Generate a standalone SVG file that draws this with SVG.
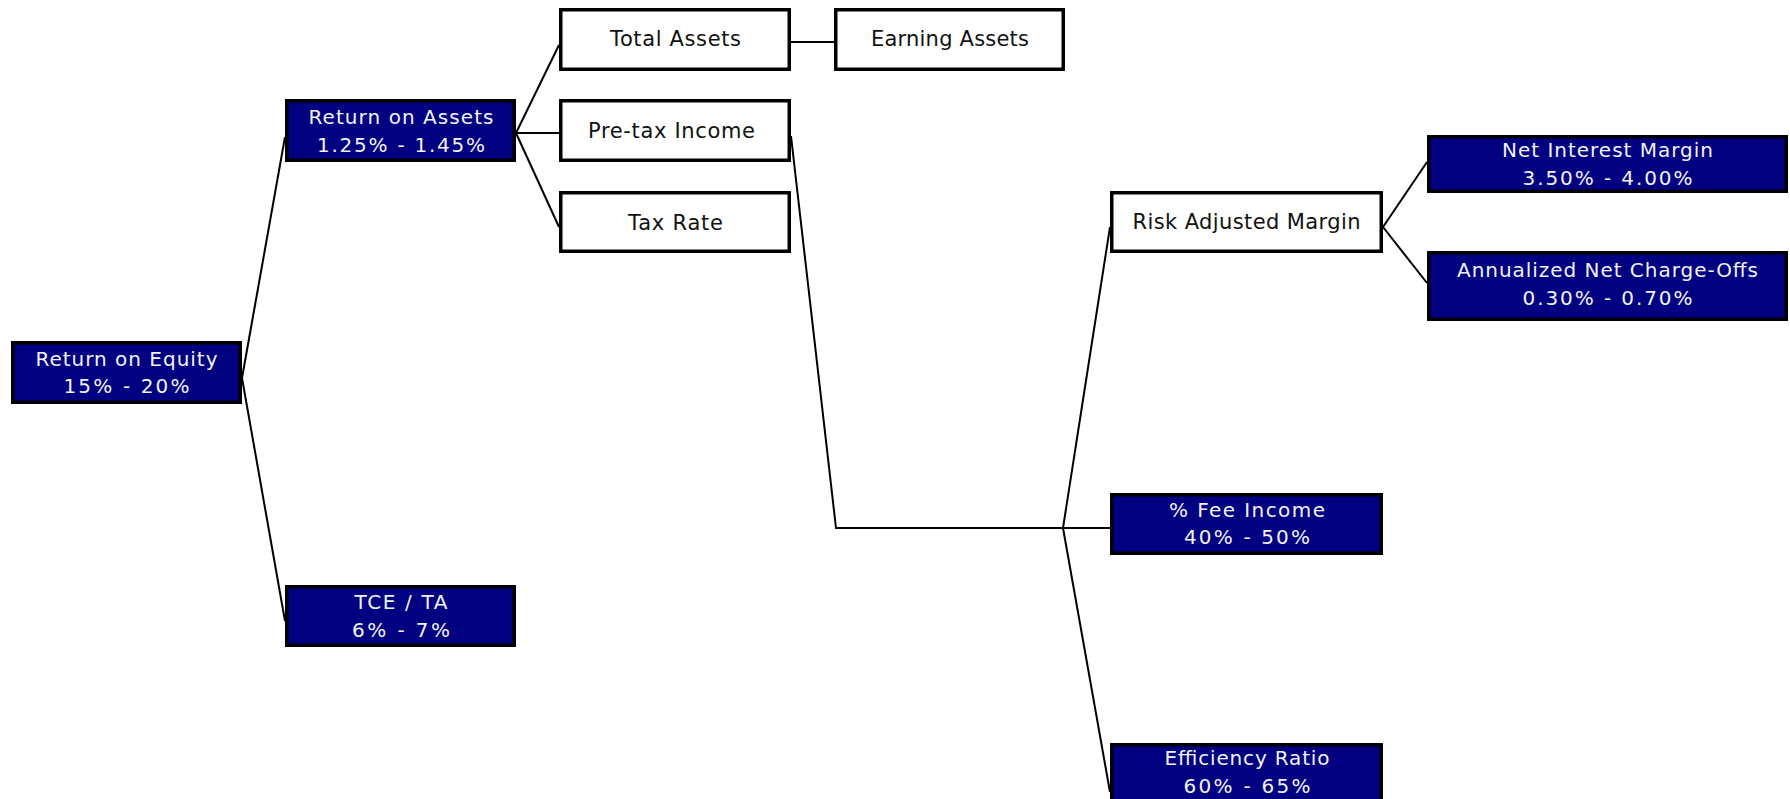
<svg xmlns="http://www.w3.org/2000/svg" width="1790" height="799" viewBox="0 0 1790 799">
<style>
.bx{stroke:#000;stroke-width:3.5}
.blue{fill:#000080}
.white{fill:#fff}
.tb{font-family:"DejaVu Sans","Verdana",sans-serif;font-size:20px;fill:#f2f2f2;text-anchor:middle}
.tw{font-family:"DejaVu Sans","Verdana",sans-serif;font-size:21px;fill:#111;text-anchor:middle}
.c{fill:none;stroke:#000;stroke-width:2}
</style>
<rect width="1790" height="799" fill="#fff"/>
<g id="connectors">
<line class="c" x1="242" y1="378" x2="285" y2="137"/>
<line class="c" x1="242" y1="378" x2="285" y2="621"/>
<line class="c" x1="516" y1="133" x2="559" y2="45"/>
<line class="c" x1="516" y1="133" x2="559" y2="133"/>
<line class="c" x1="516" y1="133" x2="559" y2="227"/>
<line class="c" x1="791" y1="42" x2="834" y2="42"/>
<polyline class="c" points="791,136 836,528 1110,528"/>
<line class="c" x1="1063" y1="528" x2="1110" y2="227"/>
<line class="c" x1="1063" y1="528" x2="1110" y2="792"/>
<line class="c" x1="1383" y1="227" x2="1427" y2="162"/>
<line class="c" x1="1383" y1="227" x2="1427" y2="283"/>
</g>
<g id="roe">
<rect class="bx blue" x="12.75" y="342.75" width="227.5" height="59.5"/>
<text class="tb" x="126.5" y="366" textLength="182">Return on Equity</text>
<text class="tb" x="126.5" y="393" textLength="126">15% - 20%</text>
</g>
<g id="roa">
<rect class="bx blue" x="286.75" y="100.75" width="227.5" height="59.5"/>
<text class="tb" x="401" y="124" textLength="185">Return on Assets</text>
<text class="tb" x="401" y="152" textLength="168">1.25% - 1.45%</text>
</g>
<g id="tce">
<rect class="bx blue" x="286.75" y="586.75" width="227.5" height="58.5"/>
<text class="tb" x="401" y="609" textLength="93">TCE / TA</text>
<text class="tb" x="401" y="637" textLength="98">6% - 7%</text>
</g>
<g id="total-assets">
<rect class="bx white" x="560.75" y="9.75" width="228.5" height="59.5"/>
<text class="tw" x="675.5" y="46" textLength="131">Total Assets</text>
</g>
<g id="pretax">
<rect class="bx white" x="560.75" y="100.75" width="228.5" height="59.5"/>
<text class="tw" x="671.5" y="138" textLength="167">Pre-tax Income</text>
</g>
<g id="tax-rate">
<rect class="bx white" x="560.75" y="192.75" width="228.5" height="58.5"/>
<text class="tw" x="675.5" y="230" textLength="95">Tax Rate</text>
</g>
<g id="earning-assets">
<rect class="bx white" x="835.75" y="9.75" width="227.5" height="59.5"/>
<text class="tw" x="950" y="46" textLength="158">Earning Assets</text>
</g>
<g id="ram">
<rect class="bx white" x="1111.75" y="192.75" width="269.5" height="58.5"/>
<text class="tw" x="1246.5" y="229" textLength="228">Risk Adjusted Margin</text>
</g>
<g id="fee">
<rect class="bx blue" x="1111.75" y="494.75" width="269.5" height="58.5"/>
<text class="tb" x="1247" y="517" textLength="156">% Fee Income</text>
<text class="tb" x="1247" y="544" textLength="126">40% - 50%</text>
</g>
<g id="efficiency">
<rect class="bx blue" x="1111.75" y="744.75" width="269.5" height="59.5"/>
<text class="tb" x="1247" y="765" textLength="165">Efficiency Ratio</text>
<text class="tb" x="1247" y="793" textLength="127">60% - 65%</text>
</g>
<g id="nim">
<rect class="bx blue" x="1428.75" y="136.75" width="357.5" height="54.5"/>
<text class="tb" x="1607.5" y="157" textLength="211">Net Interest Margin</text>
<text class="tb" x="1607.5" y="185" textLength="170">3.50% - 4.00%</text>
</g>
<g id="anco">
<rect class="bx blue" x="1428.75" y="252.75" width="357.5" height="66.5"/>
<text class="tb" x="1607.5" y="277" textLength="301">Annualized Net Charge-Offs</text>
<text class="tb" x="1607.5" y="305" textLength="170">0.30% - 0.70%</text>
</g>
</svg>
